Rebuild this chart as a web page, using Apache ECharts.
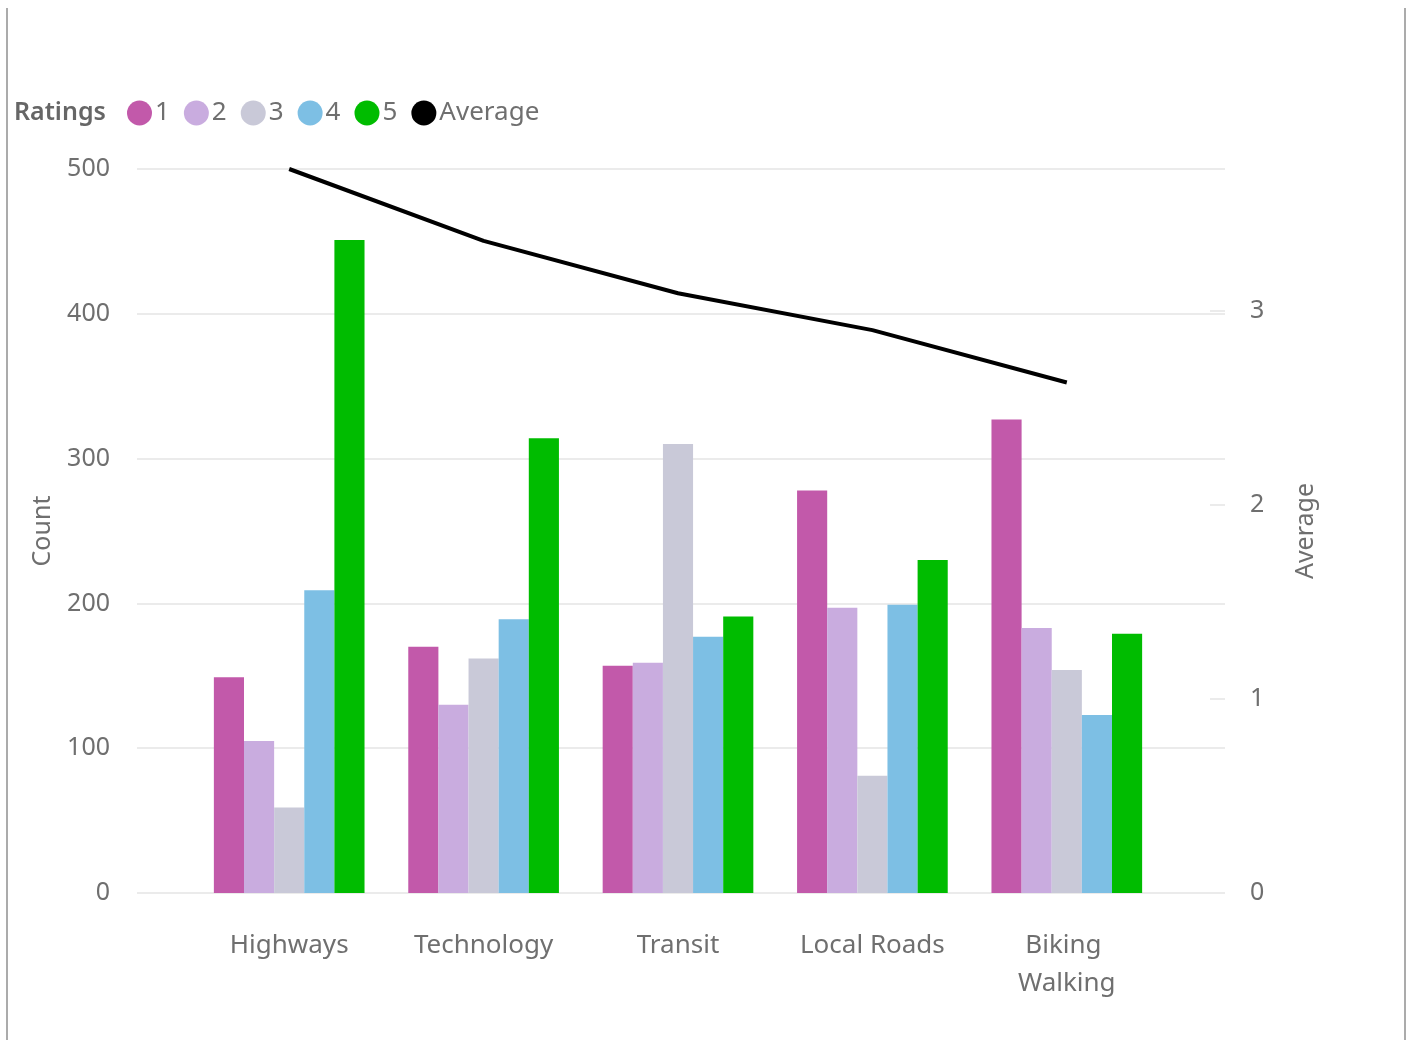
<!DOCTYPE html>
<html>
<head>
<meta charset="utf-8">
<script src="https://cdn.jsdelivr.net/npm/echarts@6/dist/echarts.min.js"></script>
<style>
  html, body { margin: 0; padding: 0; background: #fff; }
  #chart { width: 1414px; height: 1040px; }
</style>
</head>
<body>
<div id="chart"></div>
<script>
// Survey topics and rating counts
const categories = ['Highways', 'Technology', 'Transit', 'Local Roads', 'Biking Walking'];
const ratingNames = ['1', '2', '3', '4', '5'];
const rating1 = [149, 170, 157, 278, 327];
const rating2 = [105, 130, 159, 197, 183];
const rating3 = [59, 162, 310, 81, 154];
const rating4 = [209, 189, 177, 199, 123];
const rating5 = [451, 314, 191, 230, 179];
const average = [3.73, 3.36, 3.09, 2.90, 2.63];
const countTicks = { min: 0, max: 500, interval: 100 };

const ratingColors = ['#C259AA', '#C9ACDF', '#C9C9D8', '#7DBFE4', '#00BC00'];
const ratingSeries = [rating1, rating2, rating3, rating4, rating5];
const avgMax = Math.max(...average);

const FONT = '"Noto Sans", "Open Sans", sans-serif';
const TXT = '#6f6f6f';
const GRIDLINE = '#ebebeb';

const chart = echarts.init(document.getElementById('chart'), null, { renderer: 'canvas' });

const series = ratingSeries.map((vals, i) => ({
  name: ratingNames[i],
  type: 'bar',
  xAxisIndex: 1,
  yAxisIndex: 2,
  data: vals,
  barWidth: '15.5%',
  barGap: '0%',
  itemStyle: { color: ratingColors[i] },
  emphasis: { disabled: true }
}));
series.push({
  name: 'Average',
  type: 'line',
  xAxisIndex: 1,
  yAxisIndex: 3,
  data: average,
  showSymbol: false,
  symbol: 'none',
  itemStyle: { color: '#000' },
  lineStyle: { color: '#000', width: 4 },
  z: 5
});

chart.setOption({
  animation: false,
  textStyle: { fontFamily: FONT },
  graphic: [
    { type: 'line', shape: { x1: 7, y1: 8, x2: 7, y2: 1040 }, style: { stroke: '#ababab', lineWidth: 2 } },
    { type: 'line', shape: { x1: 1405, y1: 8, x2: 1405, y2: 1040 }, style: { stroke: '#ababab', lineWidth: 2 } },
    { type: 'text', left: 14, top: 100, style: { text: 'Ratings', font: '600 25px ' + FONT, fill: '#666' } }
  ],
  legend: {
    left: 127,
    top: 100,
    icon: 'circle',
    itemWidth: 25,
    itemHeight: 25,
    itemGap: 14,
    padding: 0,
    textStyle: { fontSize: 26, color: TXT, fontFamily: FONT, padding: [0, 0, 0, -2] },
    data: ratingNames.concat(['Average'])
  },
  grid: [
    { left: 137, right: 189, top: 169, bottom: 147 },
    { left: 192, right: 250, top: 169, bottom: 147 }
  ],
  xAxis: [
    { type: 'category', gridIndex: 0, data: categories, show: false },
    {
      type: 'category',
      gridIndex: 1,
      data: categories,
      axisLine: { show: false },
      axisTick: { show: false },
      axisLabel: {
        interval: 0,
        color: TXT,
        fontSize: 26,
        margin: 34,
        lineHeight: 38,
        width: 160,
        overflow: 'break'
      }
    }
  ],
  yAxis: [
    {
      type: 'value',
      gridIndex: 0,
      position: 'left',
      min: countTicks.min,
      max: countTicks.max,
      interval: countTicks.interval,
      name: 'Count',
      nameLocation: 'middle',
      nameGap: 82,
      nameTextStyle: { color: TXT, fontSize: 25 },
      axisLine: { show: false },
      axisTick: { show: false },
      axisLabel: { color: TXT, fontSize: 25, margin: 27 },
      splitLine: { lineStyle: { color: GRIDLINE, width: 2 } }
    },
    {
      type: 'value',
      gridIndex: 0,
      position: 'right',
      min: 0,
      max: avgMax,
      interval: 1,
      name: 'Average',
      nameLocation: 'middle',
      nameGap: 68,
      nameTextStyle: { color: TXT, fontSize: 25 },
      axisLine: { show: false },
      axisTick: { show: true, inside: true, length: 15, lineStyle: { color: GRIDLINE, width: 2 } },
      axisLabel: { color: TXT, fontSize: 25, margin: 25, showMaxLabel: false },
      splitLine: { show: false }
    },
    { type: 'value', gridIndex: 1, min: countTicks.min, max: countTicks.max, show: false, splitLine: { show: false } },
    { type: 'value', gridIndex: 1, min: 0, max: avgMax, show: false, splitLine: { show: false } }
  ],
  series: series
});
</script>
</body>
</html>
